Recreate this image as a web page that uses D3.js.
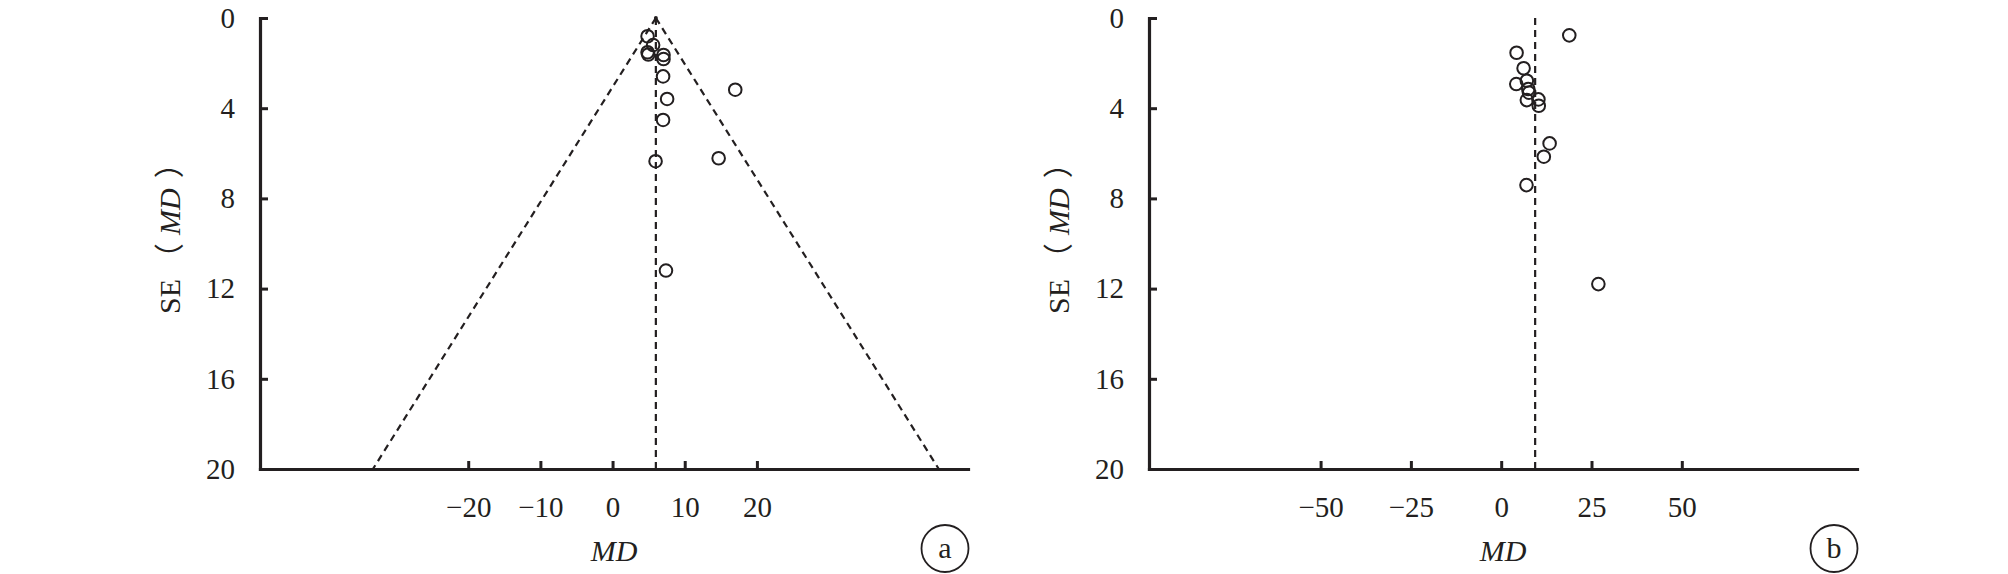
<!DOCTYPE html>
<html>
<head>
<meta charset="utf-8">
<script src="https://cdn.jsdelivr.net/npm/d3@7"></script>
<style>
  html, body { margin: 0; padding: 0; background: #fff; }
  svg { display: block; }
  text { font-family: "Liberation Serif", "DejaVu Serif", serif; fill: #231f20; }
</style>
</head>
<body>
<svg id="chart" width="2008" height="574"></svg>
<script>
// ---- Data ----
const seTicks = [0, 4, 8, 12, 16, 20];

const aTicks = [-20, -10, 0, 10, 20];
const aPooled = 6.0;
const aMD = [4.85, 5.62, 4.85, 4.95, 7.06, 7.06, 7.0, 17.0, 7.56, 7.0, 5.96, 14.7, 7.4];
const aSE = [0.81, 1.20, 1.52, 1.62, 1.64, 1.82, 2.59, 3.18, 3.59, 4.52, 6.35, 6.22, 11.2];

const bTicks = [-50, -25, 0, 25, 50];
const bPooled = 9.4;
const bMD = [18.85, 4.26, 6.2, 4.18, 7.1, 7.5, 7.7, 7.1, 10.3, 10.4, 13.4, 11.8, 7.0, 26.9];
const bSE = [0.77, 1.54, 2.23, 2.93, 2.78, 3.15, 3.31, 3.64, 3.61, 3.89, 5.56, 6.15, 7.41, 11.8];

const panels = [
  { id: "a", ticks: aTicks, pooled: aPooled, md: aMD, se: aSE, funnel: true,
    domain: [-48.85, 49.25], range: [260, 968] },
  { id: "b", ticks: bTicks, pooled: bPooled, md: bMD, se: bSE, funnel: false,
    domain: [-97.5, 98.5], range: [1149, 1857] }
];

// ---- Drawing ----
const svg = d3.select("#chart");
const ink = "#231f20";
const y = d3.scaleLinear().domain([0, 20]).range([18, 469]);
const fmt = d => String(d).replace("-", "\u2212");

panels.forEach(p => {
  const x = d3.scaleLinear().domain(p.domain).range(p.range);
  const g = svg.append("g");
  const x0 = p.range[0];

  // dashed reference lines
  const dash = "7,5";
  g.append("line")
    .attr("x1", x(p.pooled)).attr("x2", x(p.pooled))
    .attr("y1", y(0)).attr("y2", y(20))
    .attr("stroke", ink).attr("stroke-width", 2.2).attr("stroke-dasharray", dash);
  if (p.funnel) {
    [-1, 1].forEach(s => {
      g.append("line")
        .attr("x1", x(p.pooled)).attr("y1", y(0))
        .attr("x2", x(p.pooled + s * 1.96 * 20)).attr("y2", y(20))
        .attr("stroke", ink).attr("stroke-width", 2.2).attr("stroke-dasharray", dash);
    });
    g.append("circle").attr("cx", x(p.pooled)).attr("cy", y(0)).attr("r", 2).attr("fill", ink);
  }

  // points
  g.selectAll("circle.pt").data(p.md.map((m, i) => ({ m, s: p.se[i] })))
    .enter().append("circle").attr("class", "pt")
    .attr("cx", d => x(d.m)).attr("cy", d => y(d.s)).attr("r", 6.3)
    .attr("fill", "none").attr("stroke", ink).attr("stroke-width", 2);

  // axes
  const xAxis = d3.axisBottom(x).tickValues(p.ticks).tickFormat(fmt)
    .tickSize(-8).tickSizeOuter(0).tickPadding(27);
  const gx = g.append("g").attr("transform", `translate(0,${y(20)})`).call(xAxis);

  const yAxis = d3.axisLeft(y).tickValues(seTicks).tickFormat(fmt)
    .tickSize(-8).tickSizeOuter(0).tickPadding(25);
  const gy = g.append("g").attr("transform", `translate(${x0},0)`).call(yAxis);

  [gx, gy].forEach(ax => {
    ax.select(".domain").attr("stroke", ink).attr("stroke-width", 3.2).attr("stroke-linecap", "square");
    ax.selectAll(".tick line").attr("stroke", ink).attr("stroke-width", 3);
    ax.selectAll(".tick text").attr("fill", ink)
      .style("font-family", '"Liberation Serif", serif').style("font-size", "29px");
  });

  // axis titles
  const mid = (p.range[0] + p.range[1]) / 2;
  g.append("text").attr("x", mid).attr("y", 561).attr("text-anchor", "middle")
    .style("font-size", "30px").style("font-style", "italic").text("MD");

  const yt = g.append("text")
    .attr("transform", `translate(${x0 - 80},314) rotate(-90)`)
    .attr("text-anchor", "start")
    .style("font-size", "30px");
  yt.append("tspan").text("SE");
  yt.append("tspan").attr("dx", 6).style("font-family", '"Noto Sans CJK SC", serif').text("（");
  yt.append("tspan").attr("dx", 8).style("font-style", "italic").text("MD");
  yt.append("tspan").attr("dx", 10).style("font-family", '"Noto Sans CJK SC", serif').text("）");

  // panel label
  const cx = p.range[1] - 23, cy = 548.5;
  g.append("circle").attr("cx", cx).attr("cy", cy).attr("r", 23.5)
    .attr("fill", "none").attr("stroke", ink).attr("stroke-width", 1.8);
  g.append("text").attr("x", cx).attr("y", cy + 9).attr("text-anchor", "middle")
    .style("font-size", "30px").text(p.id);
});
</script>
</body>
</html>
